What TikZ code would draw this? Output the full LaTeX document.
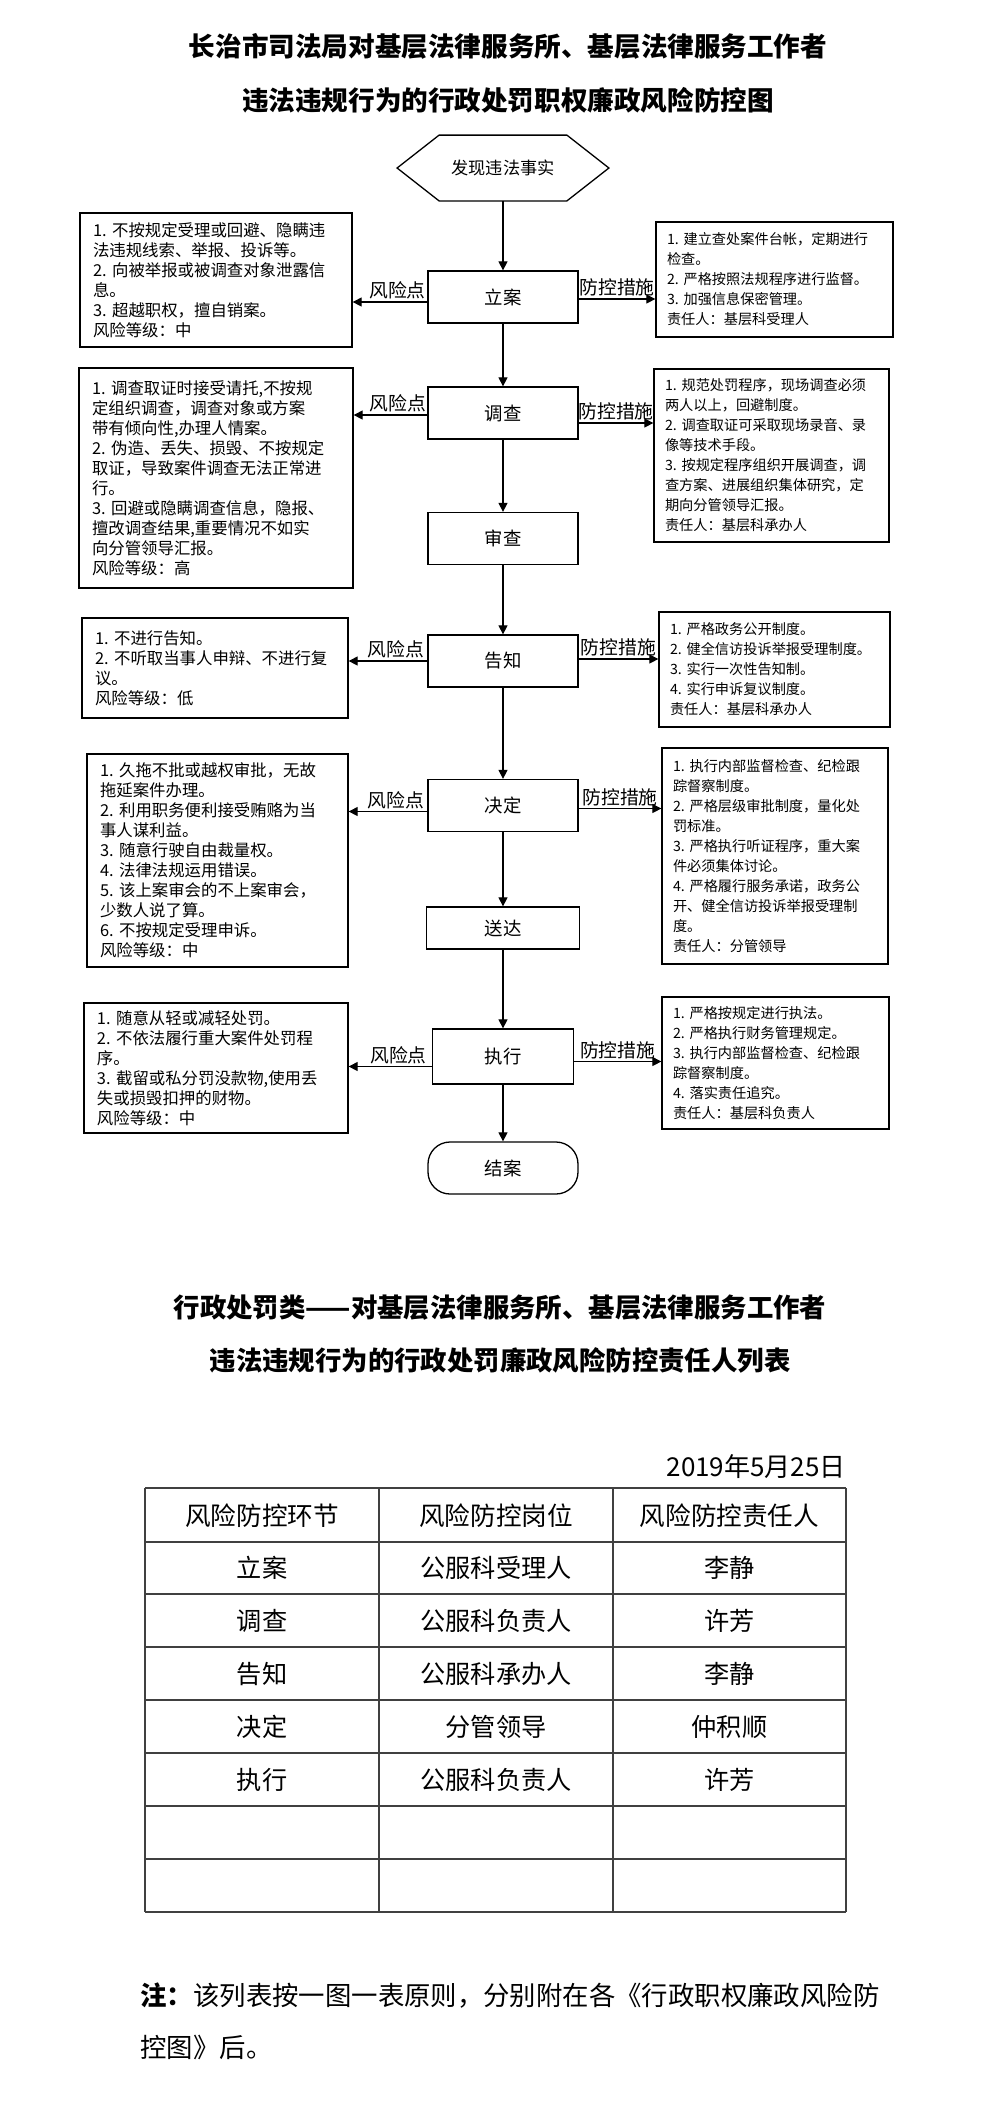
\documentclass[tikz,border=0pt]{standalone}
\usepackage{fontspec}
\setmainfont{Noto Sans CJK SC}
\usepackage{tikz}
\usetikzlibrary{arrows.meta, positioning}
\tikzset{>={Triangle[length=4.5pt,width=4.5pt]}}
\tikzset{
  stepbox/.style = {draw, line width=0.65pt, minimum width=75pt, minimum height=26pt, inner sep=0pt, font=\fontsize{9.2}{11}\selectfont},
  riskbox/.style = {draw, line width=0.65pt, align=left, inner xsep=6.5pt, inner ysep=0pt, font=\fontsize{8.2}{10}\selectfont},
  ctrlbox/.style = {draw, line width=0.65pt, align=left, inner xsep=5.5pt, inner ysep=0pt, font=\fontsize{7.1}{10}\selectfont},
  tag/.style = {above, inner sep=1pt, font=\fontsize{9.4}{11}\selectfont},
  link/.style = {->, line width=0.6pt},
  tabline/.style = {line width=0.6pt, black!75}
}

\begin{document}
\begin{tikzpicture}[x=0.5pt, y=-0.5pt]
\useasboundingbox (0,0) rectangle (993,2101);

% titles
\node[font=\bfseries\fontsize{13.3}{15}\selectfont] (title1) at (508,46) {长治市司法局对基层法律服务所、基层法律服务工作者};
\node[font=\bfseries\fontsize{13.3}{15}\selectfont] (title2) at (508,100) {违法违规行为的行政处罚职权廉政风险防控图};

% flow
\node[minimum width=105.5pt, minimum height=32.5pt, inner sep=0pt, font=\fontsize{8.6}{10}\selectfont] (find) at (503,168) {发现违法事实};
\draw[line width=0.65pt] (find.west) -- ([xshift=21pt]find.north west) -- ([xshift=-21pt]find.north east) -- (find.east) -- ([xshift=-21pt]find.south east) -- ([xshift=21pt]find.south west) -- cycle;
\node[stepbox] (lian) at (503,297) {立案};
\node[stepbox] (diaocha) at (503,413) {调查};
\node[stepbox] (shencha) at (503,538.5) {审查};
\node[stepbox] (gaozhi) at (503,661) {告知};
\node[stepbox] (jueding) at (503,805.5) {决定};
\node[stepbox, minimum width=76.5pt, minimum height=21pt] (songda) at (503,928) {送达};
\node[stepbox, minimum width=70.5pt, minimum height=27.5pt] (zhixing) at (503,1056.5) {执行};
\node[stepbox, rounded corners=11pt] (jiean) at (503,1168) {结案};

\draw[link] (find) -- (lian);
\draw[link] (lian) -- (diaocha);
\draw[link] (diaocha) -- (shencha);
\draw[link] (shencha) -- (gaozhi);
\draw[link] (gaozhi) -- (jueding);
\draw[link] (jueding) -- (songda);
\draw[link] (songda) -- (zhixing);
\draw[link] (zhixing) -- (jiean);

% risk points
\node[riskbox, text width=123pt, minimum height=67pt] (r1) at (216,280) {1.~不按规定受理或回避、隐瞒违\\法违规线索、举报、投诉等。\\2.~向被举报或被调查对象泄露信\\息。\\3.~超越职权，擅自销案。\\风险等级：中};
\node[riskbox, text width=124pt, minimum height=110pt] (r2) at (216,478) {1.~调查取证时接受请托,不按规\\定组织调查，调查对象或方案\\带有倾向性,办理人情案。\\2.~伪造、丢失、损毁、不按规定\\取证，导致案件调查无法正常进\\行。\\3.~回避或隐瞒调查信息，隐报、\\擅改调查结果,重要情况不如实\\向分管领导汇报。\\风险等级：高};
\node[riskbox, text width=120pt, minimum height=50pt] (r3) at (215,668) {1.~不进行告知。\\2.~不听取当事人申辩、不进行复\\议。\\风险等级：低};
\node[riskbox, text width=117.5pt, minimum height=106.5pt] (r4) at (217.5,860.5) {1.~久拖不批或越权审批，无故\\拖延案件办理。\\2.~利用职务便利接受贿赂为当\\事人谋利益。\\3.~随意行驶自由裁量权。\\4.~法律法规运用错误。\\5.~该上案审会的不上案审会，\\少数人说了算。\\6.~不按规定受理申诉。\\风险等级：中};
\node[riskbox, text width=119pt, minimum height=65pt] (r5) at (216,1068) {1.~随意从轻或减轻处罚。\\2.~不依法履行重大案件处罚程\\序。\\3.~截留或私分罚没款物,使用丢\\失或损毁扣押的财物。\\风险等级：中};

% control measures
\node[ctrlbox, text width=107.5pt, minimum height=57.5pt] (c1) at (774.5,279.5) {1.~建立查处案件台帐，定期进行\\检查。\\2.~严格按照法规程序进行监督。\\3.~加强信息保密管理。\\责任人：基层科受理人};
\node[ctrlbox, text width=106.5pt, minimum height=86.5pt] (c2) at (771.5,455.5) {1.~规范处罚程序，现场调查必须\\两人以上，回避制度。\\2.~调查取证可采取现场录音、录\\像等技术手段。\\3.~按规定程序组织开展调查，调\\查方案、进展组织集体研究，定\\期向分管领导汇报。\\责任人：基层科承办人};
\node[ctrlbox, text width=104.5pt, minimum height=57.5pt] (c3) at (774.5,669.5) {1.~严格政务公开制度。\\2.~健全信访投诉举报受理制度。\\3.~实行一次性告知制。\\4.~实行申诉复议制度。\\责任人：基层科承办人};
\node[ctrlbox, text width=102pt, minimum height=108pt] (c4) at (775,856) {1.~执行内部监督检查、纪检跟\\踪督察制度。\\2.~严格层级审批制度，量化处\\罚标准。\\3.~严格执行听证程序，重大案\\件必须集体讨论。\\4.~严格履行服务承诺，政务公\\开、健全信访投诉举报受理制\\度。\\责任人：分管领导};
\node[ctrlbox, text width=102.5pt, minimum height=66pt] (c5) at (775.5,1063) {1.~严格按规定进行执法。\\2.~严格执行财务管理规定。\\3.~执行内部监督检查、纪检跟\\踪督察制度。\\4.~落实责任追究。\\责任人：基层科负责人};

\draw[link] ([yshift=-2.5pt]lian.west) -- node[tag, pos=0.4] {风险点} ([yshift=-2.5pt]lian.west -| r1.east);
\draw[link] ([yshift=-1pt]diaocha.west) -- node[tag, pos=0.4] {风险点} ([yshift=-1pt]diaocha.west -| r2.east);
\draw[link] (gaozhi.west) -- node[tag, pos=0.4] {风险点} (gaozhi.west -| r3.east);
\draw[link] ([yshift=-3pt]jueding.west) -- node[tag, pos=0.4] {风险点} ([yshift=-3pt]jueding.west -| r4.east);
\draw[link] ([yshift=-5pt]zhixing.west) -- node[tag, pos=0.4] {风险点} ([yshift=-5pt]zhixing.west -| r5.east);

\draw[link] ([yshift=-1pt]lian.east) -- node[tag] {防控措施} ([yshift=-1pt]lian.east -| c1.west);
\draw[link] ([yshift=-5pt]diaocha.east) -- node[tag] {防控措施} ([yshift=-5pt]diaocha.east -| c2.west);
\draw[link] ([yshift=1pt]gaozhi.east) -- node[tag] {防控措施} ([yshift=1pt]gaozhi.east -| c3.west);
\draw[link] ([yshift=-1.5pt]jueding.east) -- node[tag] {防控措施} ([yshift=-1.5pt]jueding.east -| c4.west);
\draw[link] ([yshift=-2.5pt]zhixing.east) -- node[tag] {防控措施} ([yshift=-2.5pt]zhixing.east -| c5.west);

% list of persons
\node[font=\bfseries\fontsize{13.2}{15}\selectfont] (title3) at (500,1308) {行政处罚类——对基层法律服务所、基层法律服务工作者};
\node[font=\bfseries\fontsize{13.2}{15}\selectfont] (title4) at (500,1360) {违法违规行为的行政处罚廉政风险防控责任人列表};
\node[anchor=east, inner sep=0pt, font=\fontsize{13}{15}\selectfont] (date) at (846,1467) {2019年5月25日};

\foreach \y in {1488,1542,1594,1647,1700,1753,1806,1859,1912}
  \draw[tabline] (145,\y) -- (846,\y);
\foreach \x in {145,379,613,846}
  \draw[tabline] (\x,1488) -- (\x,1912);

\node[font=\fontsize{12.8}{15}\selectfont] (head1) at (262,1516) {风险防控环节};
\node[font=\fontsize{12.8}{15}\selectfont] (head2) at (496,1516) {风险防控岗位};
\node[font=\fontsize{12.8}{15}\selectfont] (head3) at (729.5,1516) {风险防控责任人};
\foreach \n/\step/\post/\who/\y in {1/立案/公服科受理人/李静/1568, 2/调查/公服科负责人/许芳/1620.5, 3/告知/公服科承办人/李静/1673.5, 4/决定/分管领导/仲积顺/1726.5, 5/执行/公服科负责人/许芳/1779.5}{
  \node[font=\fontsize{12.6}{15}\selectfont] (step\n) at (262,\y) {\step};
  \node[font=\fontsize{12.6}{15}\selectfont] (post\n) at (496,\y) {\post};
  \node[font=\fontsize{12.6}{15}\selectfont] (who\n) at (729.5,\y) {\who};
}

\node[anchor=west, align=left, inner sep=0pt, font=\fontsize{13.2}{26}\selectfont] (note) at (140,2021) {\textbf{注：}该列表按一图一表原则，分别附在各《行政职权廉政风险防\\控图》后。};
\end{tikzpicture}
\end{document}
